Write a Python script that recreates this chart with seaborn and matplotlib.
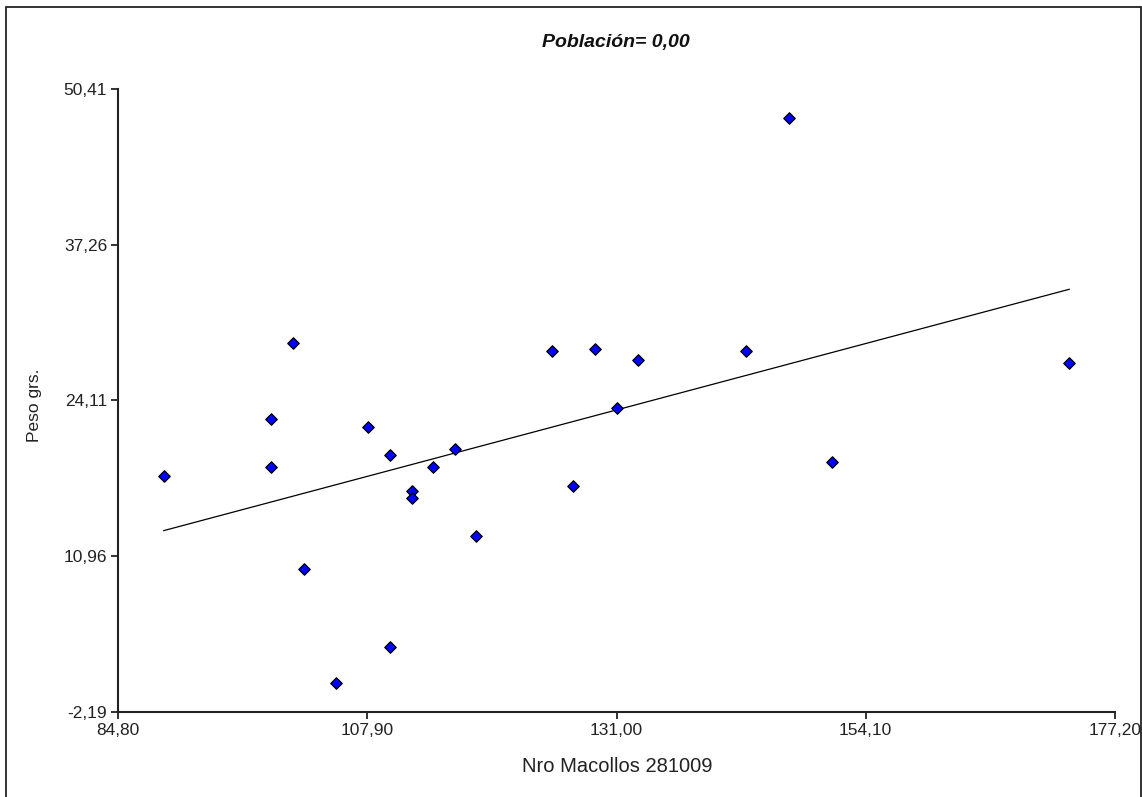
import matplotlib
matplotlib.use("Agg")
import matplotlib.pyplot as plt
from matplotlib.patches import Rectangle
import seaborn as sns
import pandas as pd

# Number of tillers (281009) and weight per plant
macollos = [89, 99, 99, 101, 102, 105, 108, 110, 110, 112, 112, 114,
            116, 118, 125, 127, 129, 131, 133, 143, 147, 151, 173]
peso = [17.77, 22.57, 18.50, 29.01, 9.87, 0.20, 21.87, 19.54, 3.29, 16.44,
        15.83, 18.50, 19.99, 12.65, 28.31, 16.87, 28.45, 23.48, 27.57, 28.31,
        48.02, 18.95, 27.27]

x_ticks = [84.80, 107.90, 131.00, 154.10, 177.20]
y_ticks = [-2.19, 10.96, 24.11, 37.26, 50.41]

titulo = "Población= 0,00"
x_label = "Nro Macollos 281009"
y_label = "Peso grs."

df = pd.DataFrame({"x": macollos, "y": peso})

sns.set_style("ticks")
plt.rcParams["font.family"] = ["Liberation Sans", "DejaVu Sans"]

fig = plt.figure(figsize=(11.42, 7.97), dpi=100)
ax = fig.add_axes([118.3 / 1142, 1 - 711.7 / 797,
                   (1114.7 - 118.3) / 1142, (711.7 - 89.3) / 797])

sns.regplot(data=df, x="x", y="y", ax=ax, ci=None, truncate=True,
            marker="D",
            scatter_kws=dict(s=34, color="#0000ff", alpha=1,
                             edgecolors="black", linewidths=0.9, zorder=3),
            line_kws=dict(color="black", linewidth=0.9, zorder=2))

ax.set_xlim(x_ticks[0], x_ticks[-1])
ax.set_ylim(y_ticks[0], y_ticks[-1])
ax.set_xticks(x_ticks)
ax.set_xticklabels([f"{v:.2f}".replace(".", ",") for v in x_ticks])
ax.set_yticks(y_ticks)
ax.set_yticklabels([f"{v:.2f}".replace(".", ",") for v in y_ticks])

for side in ("top", "right"):
    ax.spines[side].set_visible(False)
for side in ("left", "bottom"):
    ax.spines[side].set_linewidth(1.5)
    ax.spines[side].set_color("#222222")

ax.tick_params(axis="both", direction="out", length=5, width=1.3,
               color="#222222", labelsize=12.5, labelcolor="#222222", pad=3)
ax.set_xlabel("")
ax.set_ylabel("")

fig.text(616 / 1142, 1 - 43 / 797, titulo, ha="center", va="center",
         fontsize=14, fontweight="bold", fontstyle="italic", color="#111111")
fig.text(617 / 1142, 1 - 766 / 797, x_label, ha="center", va="center",
         fontsize=14.5, color="#222222")
fig.text(35 / 1142, 1 - 405 / 797, y_label, ha="center", va="center",
         rotation=90, fontsize=12.5, color="#222222")

# outer frame around the whole chart
fig.patches.append(Rectangle((6 / 1142, -0.02), (1140.5 - 6) / 1142,
                             (797 - 7) / 797 + 0.02, transform=fig.transFigure,
                             fill=False, edgecolor="#222222", linewidth=1.3))

fig.savefig("out.png", dpi=100)
